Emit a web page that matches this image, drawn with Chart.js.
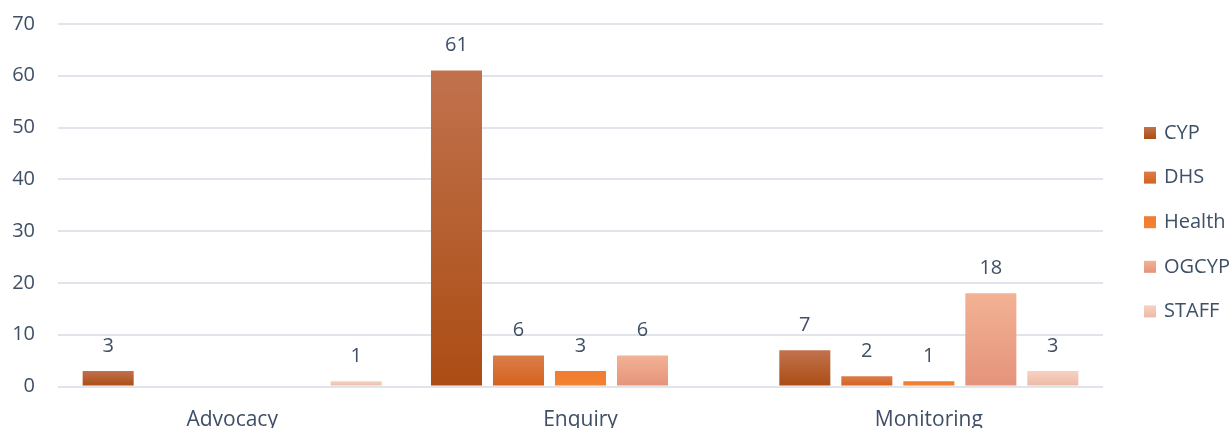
<!DOCTYPE html>
<html>
<head>
<meta charset="utf-8">
<script src="https://cdn.jsdelivr.net/npm/chart.js@4/dist/chart.umd.min.js"></script>
<style>
  html, body { margin: 0; padding: 0; background: #ffffff; overflow: hidden; }
  canvas { display: block; }
</style>
</head>
<body>
<canvas id="chart" width="1231" height="428"></canvas>
<script>
// Case categories and counts per source
const categories = ['Advocacy', 'Enquiry', 'Monitoring'];
const seriesNames = ['CYP', 'DHS', 'Health', 'OGCYP', 'STAFF'];
const cypValues    = [3, 61, 7];
const dhsValues    = [0, 6, 2];
const healthValues = [0, 3, 1];
const ogcypValues  = [0, 6, 18];
const staffValues  = [1, 0, 3];
const yTicks = [0, 10, 20, 30, 40, 50, 60, 70];

// top / bottom colours of each series' vertical gradient
const seriesColours = [
  ['#c1724d', '#ab4c13'],
  ['#db7d4b', '#d4611b'],
  ['#f07c32', '#f2822f'],
  ['#f3b295', '#e4937a'],
  ['#f8d1c0', '#edbaa6']
];

const TEXT = '#3f4f66';
const FONT = "'Open Sans', 'Noto Sans', sans-serif";

function barFill(top, bottom) {
  return (ctx) => {
    const chart = ctx.chart;
    const y = chart.scales && chart.scales.y;
    if (!chart.chartArea || !y || ctx.type !== 'data') return bottom;
    const y0 = y.getPixelForValue(0);
    const y1 = y.getPixelForValue(ctx.raw);
    if (Math.abs(y0 - y1) < 0.5) return bottom;
    const g = chart.ctx.createLinearGradient(0, y1, 0, y0);
    g.addColorStop(0, top);
    g.addColorStop(1, bottom);
    return g;
  };
}

const valueLists = [cypValues, dhsValues, healthValues, ogcypValues, staffValues];
const datasets = seriesNames.map((name, i) => ({
  label: name,
  data: valueLists[i],
  backgroundColor: barFill(seriesColours[i][0], seriesColours[i][1]),
  borderWidth: 0,
  categoryPercentage: 0.89,
  barPercentage: 0.823
}));

// value labels above each non-zero bar
const valueLabels = {
  id: 'valueLabels',
  afterDatasetsDraw(chart) {
    const ctx = chart.ctx;
    ctx.save();
    ctx.font = '20px ' + FONT;
    ctx.fillStyle = TEXT;
    ctx.textAlign = 'center';
    ctx.textBaseline = 'middle';
    chart.data.datasets.forEach((ds, di) => {
      const meta = chart.getDatasetMeta(di);
      meta.data.forEach((bar, idx) => {
        const v = ds.data[idx];
        if (!v) return;
        ctx.fillText(String(v), bar.x, bar.y - 25);
      });
    });
    ctx.restore();
  }
};

// vertical legend to the right of the plot
const sideLegend = {
  id: 'sideLegend',
  afterDraw(chart) {
    const ctx = chart.ctx;
    const area = chart.chartArea;
    const boxX = area.right + 41;
    const startY = 133;
    const step = 44.6;
    const box = 12;
    ctx.save();
    ctx.font = '20px ' + FONT;
    ctx.textAlign = 'left';
    ctx.textBaseline = 'middle';
    chart.data.datasets.forEach((ds, i) => {
      const cy = startY + step * i;
      const g = ctx.createLinearGradient(0, cy - box / 2, 0, cy + box / 2);
      g.addColorStop(0, seriesColours[i][0]);
      g.addColorStop(1, seriesColours[i][1]);
      ctx.fillStyle = g;
      ctx.fillRect(boxX, cy - box / 2, box, box);
      ctx.fillStyle = TEXT;
      ctx.fillText(ds.label, boxX + 20, cy);
    });
    ctx.restore();
  }
};

new Chart(document.getElementById('chart'), {
  type: 'bar',
  data: { labels: categories, datasets },
  plugins: [valueLabels, sideLegend],
  options: {
    responsive: false,
    animation: false,
    events: [],
    layout: { padding: { top: 24, right: 128, left: 0, bottom: 0 }, autoPadding: false },
    plugins: {
      legend: { display: false },
      tooltip: { enabled: false },
      title: { display: false }
    },
    scales: {
      x: {
        grid: { display: false, drawTicks: false },
        border: { display: false },
        ticks: { color: TEXT, font: { family: FONT, size: 21 }, padding: 21 },
        afterFit(scale) { scale.height = 428 - 386.5; }
      },
      y: {
        min: 0,
        max: 70,
        afterBuildTicks(scale) { scale.ticks = yTicks.map(v => ({ value: v })); },
        grid: { color: '#e1e4ea', lineWidth: 2, drawTicks: false },
        border: { display: false },
        ticks: { color: TEXT, font: { family: FONT, size: 20 }, padding: 23 },
        afterFit(scale) { scale.width = 58; scale.paddingTop = 0; scale.paddingBottom = 0; }
      }
    }
  }
});
</script>
</body>
</html>
